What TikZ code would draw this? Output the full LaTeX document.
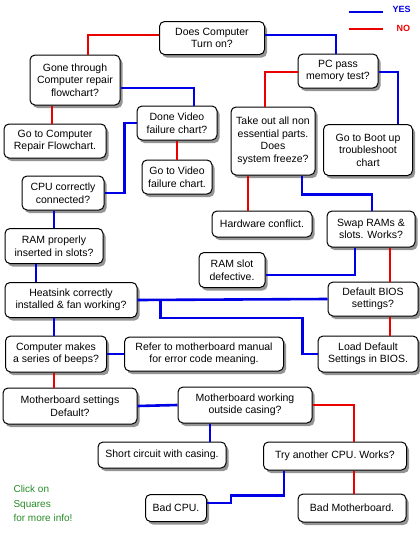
\documentclass[tikz,border=0pt]{standalone}
\usepackage{fontspec}
\setmainfont{Liberation Sans}
\usetikzlibrary{shadows}
\begin{document}
\begin{tikzpicture}[x=1pt,y=-1pt,
  box/.style={draw=black,line width=1pt,fill=white,rounded corners=5pt,align=center,
    font=\fontsize{10.5}{12.5}\selectfont,inner sep=1pt,
    drop shadow={opacity=0.6,fill=black!70,shadow xshift=2.5pt,shadow yshift=-3pt}},
  yes/.style={draw={rgb,255:red,0;green,0;blue,230},line width=2.6pt},
  no/.style={draw={rgb,255:red,235;green,0;blue,0},line width=2.6pt}]
\useasboundingbox (0,0) rectangle (420,552);
% legend
\coordinate (ly1) at (349,12); \coordinate (ly2) at (383,12);
\coordinate (ln1) at (349,29); \coordinate (ln2) at (383,29);
\draw[yes] (ly1) -- (ly2);
\draw[no] (ln1) -- (ln2);
\node[font=\fontsize{9}{10}\selectfont\bfseries,text={rgb,255:red,0;green,0;blue,230},anchor=west] (lyes) at (389,9) {YES};
\node[font=\fontsize{9}{10}\selectfont\bfseries,text={rgb,255:red,235;green,0;blue,0},anchor=west] (lno) at (393,28) {NO};
% nodes
\node[box,minimum width=105,minimum height=33] (does) at (212,38) {Does Computer\\Turn on?};
\node[box,minimum width=90,minimum height=50] (gone) at (75,80) {Gone through\\Computer repair\\flowchart?};
\node[box,minimum width=102,minimum height=34] (gorep) at (55,141) {Go to Computer\\Repair Flowchart.};
\node[box,minimum width=80,minimum height=34] (done) at (177,123) {Done Video\\failure chart?};
\node[box,minimum width=70,minimum height=34] (govid) at (177,177) {Go to Video\\failure chart.};
\node[box,minimum width=82,minimum height=34] (cpu) at (63,193) {CPU correctly\\connected?};
\node[box,minimum width=98,minimum height=35] (ram) at (54,246) {RAM properly\\inserted in slots?};
\node[box,minimum width=80,minimum height=34] (pc) at (338,71) {PC pass\\memory test?};
\node[box,minimum width=84,minimum height=68] (take) at (273,141) {Take out all non\\essential parts.\\Does\\system freeze?};
\node[box,minimum width=89,minimum height=51] (boot) at (368,150) {Go to Boot up\\troubleshoot\\chart};
\node[box,minimum width=100,minimum height=26] (hw) at (262,224) {Hardware conflict.};
\node[box,minimum width=88,minimum height=36] (swap) at (371,229) {Swap RAMs \&\\slots. Works?};
\node[box,minimum width=66,minimum height=35] (slot) at (232,270) {RAM slot\\defective.};
\node[box,minimum width=132,minimum height=35] (heat) at (71,300) {Heatsink correctly\\installed \& fan working?};
\node[box,minimum width=90,minimum height=34] (bios) at (373,299) {Default BIOS\\settings?};
\node[box,minimum width=101,minimum height=36] (beep) at (56,354) {Computer makes\\a series of beeps?};
\node[box,minimum width=159,minimum height=34] (refer) at (204,354) {Refer to motherboard manual\\for error code meaning.};
\node[box,minimum width=100,minimum height=36] (load) at (368,354) {Load Default\\Settings in BIOS.};
\node[box,minimum width=134,minimum height=36] (mbset) at (70,406) {Motherboard settings\\Default?};
\node[box,minimum width=134,minimum height=36] (mbout) at (245,405) {Motherboard working\\outside casing?};
\node[box,minimum width=128,minimum height=26] (short) at (162,455) {Short circuit with casing.};
\node[box,minimum width=143,minimum height=28] (try) at (335,456) {Try another CPU. Works?};
\node[box,minimum width=61,minimum height=27] (badcpu) at (176,508) {Bad CPU.};
\node[box,minimum width=108,minimum height=28] (badmb) at (352,508) {Bad Motherboard.};
\node[anchor=north west,align=left,font=\fontsize{10}{14.5}\selectfont,text={rgb,255:red,40;green,140;blue,40}] (click) at (10,482) {Click on\\Squares\\for more info!};
% connectors
\draw[no] ([yshift=3pt]does.west) -| ([xshift=13pt]gone.north);
\draw[yes] ([yshift=3pt]does.east) -| ([xshift=-2pt]pc.north);
\draw[no] ([xshift=-23pt]gone.south) -- ([xshift=-3pt]gorep.north);
\draw[yes] ([yshift=-8pt]gone.east) -| ([xshift=17pt]done.north);
\draw[no] (done.south) -- (govid.north);
\draw[yes] (done.west) -- ++(-12,0) |- (cpu.east);
\draw[yes] ([xshift=-9pt]cpu.south) -- (ram.north);
\draw[yes] ([xshift=-18pt]ram.south) -- ([xshift=-35pt]heat.north);
\draw[no] ([yshift=-1pt]pc.west) -| ([xshift=-8pt]take.north);
\draw[yes] ([yshift=-1pt]pc.east) -| ([xshift=30pt]boot.north);
\draw[no] ([xshift=-25pt]take.south) -- ([xshift=-14pt]hw.north);
\draw[yes] ([xshift=29pt]take.south) -- ++(0,19) -| ([xshift=1pt]swap.north);
\draw[yes] ([xshift=-16pt]swap.south) |- ([yshift=-5pt]slot.east);
\draw[no] ([xshift=19pt]swap.south) -- ([xshift=17pt]bios.north);
\draw[yes] (bios.west) -- (heat.east);
\draw[yes] (heat.east) -- ++(23,0) -- ++(0,18) -| ++(142,0) |- (load.west);
\draw[no] ([xshift=17pt]bios.south) -- ([xshift=22pt]load.north);
\draw[yes] ([xshift=-17pt]heat.south) -- ([xshift=-2pt]beep.north);
\draw[yes] (beep.east) -- (refer.west);
\draw[no] ([xshift=-2pt]beep.south) -- ([xshift=-16pt]mbset.north);
\draw[yes] (mbset.east) -- (mbout.west);
\draw[yes] ([xshift=-35pt]mbout.south) -- ([xshift=48pt]short.north);
\draw[no] (mbout.east) -| ([xshift=19pt]try.north);
\draw[yes] ([xshift=-51pt]try.south) -- ++(0,25) -- ++(-53,0) |- ([yshift=5pt]badcpu.east);
\draw[no] ([xshift=19pt]try.south) -- ([xshift=2pt]badmb.north);
\end{tikzpicture}
\end{document}
